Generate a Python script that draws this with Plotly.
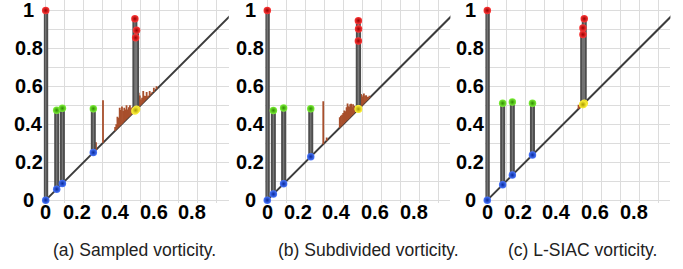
import plotly.graph_objects as go

# ---------------- data ----------------
panel_captions = ["(a) Sampled vorticity.", "(b) Subdivided vorticity.", "(c) L-SIAC vorticity."]

pair_kind = ["min-max", "min-saddle", "min-saddle", "min-saddle", "saddle-max", "saddle-max", "saddle-max"]

a_birth = [0.0, 0.058, 0.088, 0.251, 0.470, 0.479, 0.474]
a_death = [1.0, 0.474, 0.484, 0.482, 0.956, 0.895, 0.856]
a_noise_birth = [0.265, 0.302, 0.366, 0.372, 0.378, 0.384, 0.390, 0.396, 0.402, 0.408, 0.414, 0.420,
                 0.426, 0.432, 0.438, 0.444, 0.450, 0.456, 0.462, 0.468, 0.484, 0.490, 0.496, 0.502,
                 0.508, 0.514, 0.520, 0.526, 0.532, 0.540, 0.548, 0.558, 0.570, 0.584]
a_noise_death = [0.305, 0.527, 0.385, 0.400, 0.440, 0.435, 0.487, 0.475, 0.493, 0.470, 0.487, 0.478,
                 0.500, 0.478, 0.490, 0.500, 0.485, 0.490, 0.495, 0.500, 0.589, 0.566, 0.552, 0.530,
                 0.540, 0.575, 0.550, 0.549, 0.570, 0.550, 0.575, 0.568, 0.593, 0.600]

b_birth = [0.0, 0.032, 0.086, 0.229, 0.480, 0.481, 0.480]
b_death = [1.0, 0.473, 0.486, 0.482, 0.946, 0.902, 0.839]
b_noise_birth = [0.234, 0.295, 0.313, 0.382, 0.388, 0.394, 0.400, 0.406, 0.412, 0.418, 0.423, 0.428,
                 0.432, 0.437, 0.442, 0.447, 0.452, 0.458, 0.464, 0.470, 0.489, 0.494, 0.498, 0.503,
                 0.509, 0.515, 0.521, 0.527, 0.532, 0.538]
b_noise_death = [0.277, 0.521, 0.330, 0.437, 0.445, 0.450, 0.460, 0.473, 0.468, 0.490, 0.509, 0.495,
                 0.491, 0.505, 0.508, 0.490, 0.505, 0.498, 0.490, 0.495, 0.575, 0.560, 0.553, 0.545,
                 0.562, 0.550, 0.553, 0.545, 0.544, 0.550]

c_birth = [0.0, 0.081, 0.132, 0.238, 0.511, 0.504, 0.504]
c_death = [1.0, 0.511, 0.517, 0.511, 0.956, 0.908, 0.873]
c_noise_birth = [0.481, 0.486]
c_noise_death = [0.503, 0.500]

x_tick_vals = [0, 0.2, 0.4, 0.6, 0.8]
x_tick_text = ["0", "0.2", "0.4", "0.6", "0.8"]
y_tick_vals = [0, 0.2, 0.4, 0.6, 0.8, 1]
y_tick_text = ["0", "0.2", "0.4", "0.6", "0.8", "1"]

panels = [
    (a_birth, a_death, a_noise_birth, a_noise_death),
    (b_birth, b_death, b_noise_birth, b_noise_death),
    (c_birth, c_death, c_noise_birth, c_noise_death),
]

# ---------------- style ----------------
W, H = 683, 269
domains_px = [(43.8, 228.8), (265.4, 450.4), (485.4, 670.4)]
caption_centers_px = [134, 368, 582]
plot_bottom_px = 203
XR = [-0.01, 0.965]
YR = [-0.015, 1.055]
XLABEL_SHIFT = [0, -7, -6.5, -6, -5]
TICK_FONT = dict(family="Liberation Sans, Arial", size=20, color="#000")

BIRTH_COL = {"min-max": ("#4a78ff", "#0a2a9a"), "min-saddle": ("#4a78ff", "#0a2a9a"),
             "saddle-max": ("#fff23a", "#a89a00")}
DEATH_COL = {"min-max": ("#ff3a3a", "#9a0000"), "min-saddle": ("#7ef23a", "#2e8a00"),
             "saddle-max": ("#ff3a3a", "#9a0000")}
BAR_COL = "#4e4e4e"
NOISE_COL = "#a84f2c"
DIAG_COL = "#3c3c3c"
GRID_COL = "#dcdcdc"


def seg(xs, y0s, y1s):
    X, Y = [], []
    for x, a, b in zip(xs, y0s, y1s):
        X += [x, x, None]
        Y += [a, b, None]
    return X, Y


fig = go.Figure()
annotations = []
for i, (birth, death, nb, nd) in enumerate(panels):
    k = "" if i == 0 else str(i + 1)
    xa, ya = "x" + k, "y" + k
    fig.add_trace(go.Scatter(x=[0, 1], y=[0, 1], mode="lines", line=dict(color=DIAG_COL, width=2),
                             xaxis=xa, yaxis=ya, hoverinfo="skip", showlegend=False))
    X, Y = seg(nb, nb, nd)
    fig.add_trace(go.Scatter(x=X, y=Y, mode="lines", line=dict(color=NOISE_COL, width=1.8),
                             xaxis=xa, yaxis=ya, hoverinfo="skip", showlegend=False))
    X, Y = seg(birth, birth, death)
    fig.add_trace(go.Scatter(x=X, y=Y, mode="lines", line=dict(color=BAR_COL, width=5),
                             xaxis=xa, yaxis=ya, hoverinfo="skip", showlegend=False))
    fig.add_trace(go.Scatter(x=X, y=Y, mode="lines", line=dict(color="#787878", width=1.2),
                             xaxis=xa, yaxis=ya, hoverinfo="skip", showlegend=False))
    fig.add_trace(go.Scatter(
        x=birth + birth, y=birth + death, mode="markers", cliponaxis=False,
        marker=dict(size=7.5,
                    color=[BIRTH_COL[t][0] for t in pair_kind] + [DEATH_COL[t][0] for t in pair_kind],
                    gradient=dict(type="radial",
                                  color=[BIRTH_COL[t][1] for t in pair_kind] + [DEATH_COL[t][1] for t in pair_kind]),
                    line=dict(width=0)),
        xaxis=xa, yaxis=ya, hoverinfo="skip", showlegend=False))

    d0, d1 = domains_px[i]
    fig.layout["xaxis" + k] = dict(domain=[d0 / W, d1 / W], range=XR, dtick=0.1, tick0=0,
                                   showgrid=True, gridcolor=GRID_COL, gridwidth=1, zeroline=False,
                                   showticklabels=False, showline=False, anchor=ya, fixedrange=True)
    fig.layout["yaxis" + k] = dict(domain=[1 - plot_bottom_px / H, 1], range=YR, dtick=0.1, tick0=0,
                                   showgrid=True, gridcolor=GRID_COL, gridwidth=1, zeroline=False,
                                   showticklabels=False, showline=False, anchor=xa, fixedrange=True)
    for v, t in zip(y_tick_vals, y_tick_text):
        annotations.append(dict(x=0, y=v, xref=xa, yref=ya, text="<b>" + t + "</b>", showarrow=False,
                                xanchor="center", yanchor="middle", xshift=-17, font=TICK_FONT))
    for v, t, s in zip(x_tick_vals, x_tick_text, XLABEL_SHIFT):
        annotations.append(dict(x=v, y=0, xref=xa, yref=ya, text="<b>" + t + "</b>", showarrow=False,
                                xanchor="center", yanchor="middle", yshift=-12, xshift=s, font=TICK_FONT))
    annotations.append(dict(x=caption_centers_px[i] / W, y=1 - 250 / H, xref="paper", yref="paper",
                            text=panel_captions[i], showarrow=False, xanchor="center", yanchor="middle",
                            font=dict(family="Liberation Sans, Arial", size=17.5, color="#222")))

fig.update_layout(width=W, height=H, margin=dict(l=0, r=0, t=0, b=0, pad=0),
                  paper_bgcolor="white", plot_bgcolor="white", annotations=annotations,
                  hovermode=False)
fig.write_html("out.html", config={"displayModeBar": False, "staticPlot": True},
               post_script="document.body.style.margin='0';document.body.style.overflow='hidden';")
